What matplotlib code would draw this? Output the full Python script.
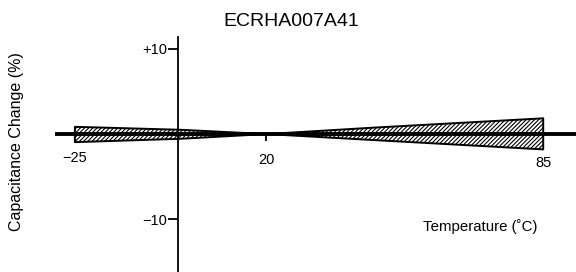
import matplotlib
matplotlib.use("Agg")
import matplotlib.pyplot as plt

plt.rcParams['font.family'] = ['Liberation Sans', 'DejaVu Sans']
plt.rcParams['hatch.linewidth'] = 0.8

# data
temps = [-25, 0, 20, 45, 85]
upper = [0.85, 0.5, 0.0, 0.75, 1.85]
lower = [-0.95, -0.55, 0.0, -0.7, -1.8]
xtick_vals = [-25, 20, 85]
xtick_labels = ['\u221225', '20', '85']
ytick_vals = [10, -10]
ytick_labels = ['+10', '\u221210']

fig = plt.figure(figsize=(5.76, 2.72), dpi=100)
ax = fig.add_axes([57/576, 0, 1 - 57/576, (272-37)/272])
ax.set_xlim(-29.2, 92.7)
ax.set_ylim(-16.2, 11.4)

for env in (upper, lower):
    ax.fill_between(temps, 0, env, facecolor='white', edgecolor='black',
                    hatch='////////', linewidth=1.4, zorder=2)

ax.spines['top'].set_visible(False)
ax.spines['right'].set_visible(False)
ax.spines['left'].set_position(('data', -0.8))
ax.spines['bottom'].set_position(('data', 0))
ax.spines['bottom'].set_linewidth(2.8)
ax.spines['left'].set_linewidth(1.3)
ax.spines['bottom'].set_zorder(3)

ax.set_xticks([20], labels=[''])
ax.tick_params(axis='x', direction='out', length=5, width=1.3)
ax.set_yticks(ytick_vals, labels=ytick_labels)
ax.tick_params(axis='y', direction='out', length=7, width=1.3, labelsize=10.5, pad=1)

label_y = [-2.8, -3.0, -3.35]
for xv, lab, ly in zip(xtick_vals, xtick_labels, label_y):
    ax.text(xv, ly, lab, ha='center', va='center', fontsize=10.5)

fig.text(291/576, 1 - 22/272, 'ECRHA007A41', ha='center', va='center', fontsize=14)
fig.text(17/576, 1 - 141.5/272, 'Capacitance Change (%)', rotation=90,
         ha='center', va='center', fontsize=11.5)
fig.text(480/576, 1 - 227/272, 'Temperature (\u02daC)', ha='center', va='center', fontsize=10.8)

fig.savefig('out.png', dpi=100)
